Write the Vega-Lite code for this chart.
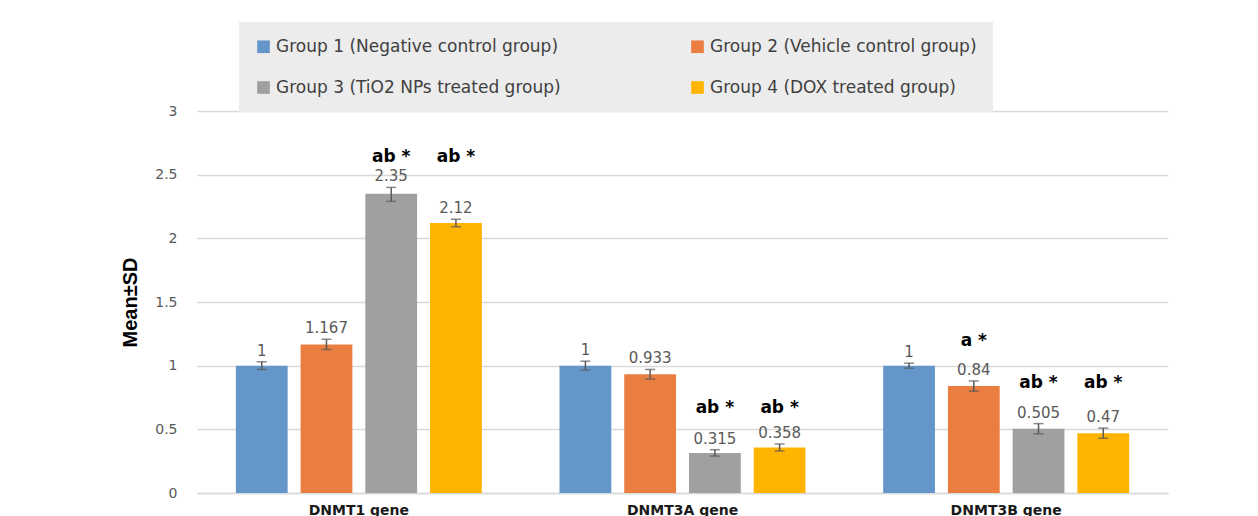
{
  "$schema": "https://vega.github.io/schema/vega-lite/v6.json",
  "width": 971,
  "height": 382,
  "autosize": "none",
  "padding": {"left": 197, "top": 111, "right": 90, "bottom": 23},
  "background": "white",
  "data": {
    "values": [
      {"gene": "DNMT1 gene", "group": "Group 1 (Negative control group)", "mean": 1, "lo": 0.97, "hi": 1.03, "label": "1", "sig": "", "sigY": null},
      {"gene": "DNMT1 gene", "group": "Group 2 (Vehicle control group)", "mean": 1.167, "lo": 1.127, "hi": 1.207, "label": "1.167", "sig": "", "sigY": null},
      {"gene": "DNMT1 gene", "group": "Group 3 (TiO2 NPs treated group)", "mean": 2.35, "lo": 2.29, "hi": 2.4, "label": "2.35", "sig": "ab *", "sigY": 2.64},
      {"gene": "DNMT1 gene", "group": "Group 4 (DOX treated group)", "mean": 2.12, "lo": 2.09, "hi": 2.15, "label": "2.12", "sig": "ab *", "sigY": 2.64},
      {"gene": "DNMT3A gene", "group": "Group 1 (Negative control group)", "mean": 1, "lo": 0.965, "hi": 1.035, "label": "1", "sig": "", "sigY": null},
      {"gene": "DNMT3A gene", "group": "Group 2 (Vehicle control group)", "mean": 0.933, "lo": 0.895, "hi": 0.97, "label": "0.933", "sig": "", "sigY": null},
      {"gene": "DNMT3A gene", "group": "Group 3 (TiO2 NPs treated group)", "mean": 0.315, "lo": 0.29, "hi": 0.34, "label": "0.315", "sig": "ab *", "sigY": 0.668},
      {"gene": "DNMT3A gene", "group": "Group 4 (DOX treated group)", "mean": 0.358, "lo": 0.33, "hi": 0.385, "label": "0.358", "sig": "ab *", "sigY": 0.668},
      {"gene": "DNMT3B gene", "group": "Group 1 (Negative control group)", "mean": 1, "lo": 0.98, "hi": 1.02, "label": "1", "sig": "", "sigY": null},
      {"gene": "DNMT3B gene", "group": "Group 2 (Vehicle control group)", "mean": 0.84, "lo": 0.8, "hi": 0.88, "label": "0.84", "sig": "a *", "sigY": 1.194},
      {"gene": "DNMT3B gene", "group": "Group 3 (TiO2 NPs treated group)", "mean": 0.505, "lo": 0.465, "hi": 0.545, "label": "0.505", "sig": "ab *", "sigY": 0.864},
      {"gene": "DNMT3B gene", "group": "Group 4 (DOX treated group)", "mean": 0.47, "lo": 0.43, "hi": 0.51, "label": "0.47", "sig": "ab *", "sigY": 0.864}
    ]
  },
  "encoding": {
    "x": {
      "field": "gene", "type": "nominal", "sort": null,
      "scale": {"paddingInner": 0.2, "paddingOuter": 0.1},
      "axis": {
        "title": null, "labelAngle": 0, "ticks": false, "grid": false,
        "labelFont": "DejaVu Sans", "labelFontSize": 14, "labelFontWeight": "bold",
        "labelColor": "#1a1a1a", "labelPadding": 10,
        "domainColor": "#d9d9d9", "domainWidth": 1.5
      }
    },
    "xOffset": {
      "field": "group", "type": "nominal", "sort": null,
      "scale": {"paddingInner": 0.2, "paddingOuter": 0.1}
    }
  },
  "layer": [
    {
      "mark": {"type": "bar"},
      "encoding": {
        "y": {
          "field": "mean", "type": "quantitative",
          "scale": {"domain": [0, 3]},
          "axis": {
            "title": "Mean±SD",
            "values": [0, 0.5, 1, 1.5, 2, 2.5, 3],
            "format": "~g", "grid": true,
            "ticks": false, "domain": false,
            "gridColor": "#d9d9d9", "gridWidth": 1.5,
            "labelFont": "DejaVu Sans", "labelFontSize": 14, "labelColor": "#595959",
            "labelPadding": 20,
            "titleFont": "Liberation Sans Narrow, Liberation Sans", "titleFontSize": 20,
            "titleFontWeight": "bold", "titleColor": "#000000", "titlePadding": 14
          }
        },
        "color": {
          "field": "group", "type": "nominal", "sort": null,
          "scale": {
            "domain": ["Group 1 (Negative control group)", "Group 2 (Vehicle control group)", "Group 3 (TiO2 NPs treated group)", "Group 4 (DOX treated group)"],
            "range": ["#6496CA", "#E97E40", "#A0A0A0", "#FFB400"]
          },
          "legend": {
            "title": null, "orient": "none", "legendX": 42, "legendY": -89,
            "direction": "horizontal", "columns": 2,
            "fillColor": "#ececec", "padding": 16,
            "symbolType": "square", "symbolSize": 160, "symbolStrokeWidth": 0,
            "labelFont": "DejaVu Sans", "labelFontSize": 17, "labelColor": "#404040",
            "labelPadding": 7, "labelLimit": 500,
            "rowPadding": 23, "columnPadding": 128
          }
        }
      }
    },
    {
      "mark": {"type": "rule", "color": "#595959", "strokeWidth": 1.5},
      "encoding": {
        "y": {"field": "lo", "type": "quantitative"},
        "y2": {"field": "hi"}
      }
    },
    {
      "mark": {"type": "tick", "color": "#595959", "thickness": 1.5, "size": 10, "orient": "horizontal"},
      "encoding": {"y": {"field": "lo", "type": "quantitative"}}
    },
    {
      "mark": {"type": "tick", "color": "#595959", "thickness": 1.5, "size": 10, "orient": "horizontal"},
      "encoding": {"y": {"field": "hi", "type": "quantitative"}}
    },
    {
      "mark": {"type": "text", "font": "DejaVu Sans", "fontSize": 15, "color": "#595959", "baseline": "bottom", "dy": -3},
      "encoding": {
        "y": {"field": "hi", "type": "quantitative"},
        "text": {"field": "label"}
      }
    },
    {
      "transform": [{"filter": "datum.sig != ''"}],
      "mark": {"type": "text", "font": "DejaVu Sans", "fontSize": 17, "fontWeight": 600, "color": "#000000", "baseline": "middle"},
      "encoding": {
        "y": {"field": "sigY", "type": "quantitative"},
        "text": {"field": "sig"}
      }
    }
  ],
  "config": {
    "view": {"stroke": null}
  }
}
